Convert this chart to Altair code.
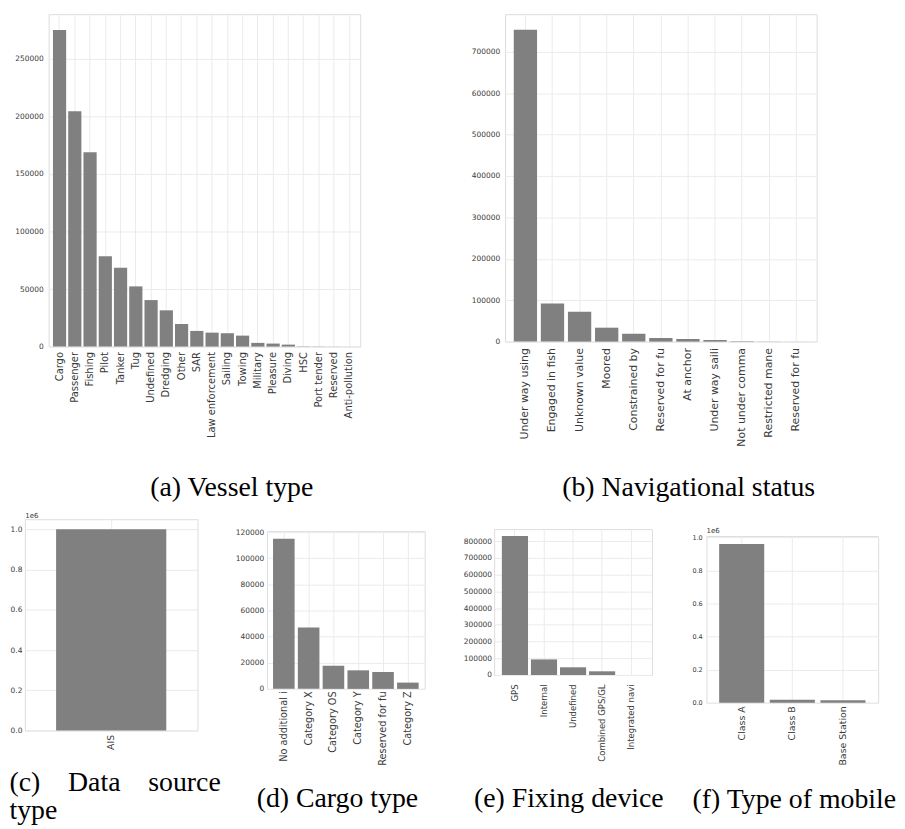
import altair as alt
import pandas as pd

# ---------------- data ----------------
vessel_types = ["Cargo", "Passenger", "Fishing", "Pilot", "Tanker", "Tug", "Undefined",
                "Dredging", "Other", "SAR", "Law enforcement", "Sailing", "Towing",
                "Military", "Pleasure", "Diving", "HSC", "Port tender", "Reserved",
                "Anti-pollution"]
vessel_counts = [275100, 204400, 168900, 78500, 68400, 52300, 40400, 31500, 19600,
                 13600, 12100, 11600, 9500, 3200, 2600, 1700, 300, 150, 80, 30]

nav_status = ["Under way using", "Engaged in fish", "Unknown value", "Moored",
              "Constrained by", "Reserved for fu", "At anchor", "Under way saili",
              "Not under comma", "Restricted mane", "Reserved for fu#2"]
nav_counts = [753000, 92000, 72100, 33600, 19200, 8700, 6300, 3900, 1000, 300, 100]

source_types = ["AIS"]
source_counts = [1000000]

cargo_types = ["No additional i", "Category X", "Category OS", "Category Y",
               "Reserved for fu", "Category Z"]
cargo_counts = [115000, 47000, 17700, 14200, 12900, 4800]

fixing_devices = ["GPS", "Internal", "Undefined", "Combined GPS/GL", "Integrated navi"]
fixing_counts = [831000, 93000, 46000, 22000, 500]

mobile_types = ["Class A", "Class B", "Base Station"]
mobile_counts = [960000, 18000, 15000]

# ---------------- style ----------------
BAR = "#808080"
GRID = "#ebebeb"
FRAME = "#e0e0e0"
LABEL = "#3a3a3a"
SERIF = "Liberation Serif"
SANS = "DejaVu Sans"
CAP_SIZE = 28


def panel(cats, vals, *, width, height, pi, po, yticks, xsize, xpad, ysize, ypad,
          caption, capx, capy, capalign="center", ylabelexpr=None, xlabelexpr=None,
          ytitle=None, title=None):
    df = pd.DataFrame({"cat": cats, "n": vals})
    xaxis = dict(labelAngle=270, labelAlign="right", labelBaseline="middle",
                 labelFont=SANS, labelFontSize=xsize, labelColor=LABEL,
                 labelPadding=xpad, labelOverlap=False, ticks=False, domain=False,
                 grid=True, gridColor=GRID, gridWidth=1, bandPosition=0.5,
                 title=caption, titleFont=SERIF, titleFontSize=CAP_SIZE,
                 titleFontWeight="normal", titleColor="black", titleX=capx,
                 titleY=capy, titleAlign=capalign, titleBaseline="alphabetic",
                 titleLineHeight=29)
    if xlabelexpr:
        xaxis["labelExpr"] = xlabelexpr
    yaxis = dict(values=yticks, labelFont=SANS, labelFontSize=ysize, labelColor=LABEL,
                 labelPadding=ypad, ticks=False, domain=False, grid=True,
                 gridColor=GRID, gridWidth=1, format="d")
    if ylabelexpr:
        yaxis["labelExpr"] = ylabelexpr
    if ytitle:
        yaxis.update(ytitle)
    else:
        yaxis["title"] = None
    ch = alt.Chart(df).mark_bar(color=BAR).encode(
        x=alt.X("cat:N", sort=cats,
                scale=alt.Scale(paddingInner=pi, paddingOuter=po),
                axis=alt.Axis(**xaxis)),
        y=alt.Y("n:Q", scale=alt.Scale(domain=[0, max(vals) * 1.05], nice=False),
                axis=alt.Axis(**yaxis)),
    ).properties(width=width, height=height)
    if title is not None:
        ch = ch.properties(title=title)
    return ch


def spacer_title(dx):
    # invisible marker that fixes how far the panel reaches to the left
    return dict(title=".", titleFontSize=10, titleColor="transparent", titleAngle=0,
                titleAlign="left", titleBaseline="top", titleX=dx, titleY=30)


def sci_ytitle():
    return dict(title="1e6", titleFont=SANS, titleFontSize=7, titleFontWeight="normal",
                titleColor=LABEL, titleAngle=0, titleAlign="left",
                titleBaseline="bottom", titleX=0, titleY=-1)


def blank(w, h):
    return alt.Chart(pd.DataFrame({"v": [0]})).mark_point(opacity=0, size=1).properties(
        width=w, height=h, view=alt.ViewBackground(strokeOpacity=0))


a = panel(vessel_types, vessel_counts, width=314, height=335, pi=0.135, po=0.28,
          yticks=[0, 50000, 100000, 150000, 200000, 250000],
          xsize=10, xpad=5, ysize=7.5, ypad=5.5,
          caption="(a) Vessel type", capx=184, capy=150)

b = panel(nav_status, nav_counts, width=314, height=330, pi=0.14, po=0.32,
          yticks=[0, 100000, 200000, 300000, 400000, 500000, 600000, 700000],
          xsize=11, xpad=6, ysize=7.5, ypad=5.5,
          caption="(b) Navigational status", capx=184.5, capy=155,
          xlabelexpr="replace(datum.label, '#2', '')")

c = panel(source_types, source_counts, width=174, height=213, pi=0.1, po=0.255,
          yticks=[0, 200000, 400000, 600000, 800000, 1000000],
          xsize=9.3, xpad=4, ysize=7.5, ypad=3,
          caption=["(c)\u00a0\u00a0\u00a0\u00a0Data\u00a0\u00a0\u00a0\u00a0source", "type"],
          capx=-16, capy=60, capalign="left",
          ylabelexpr="format(datum.value / 1000000, '.1f')",
          ytitle=sci_ytitle())

d = panel(cargo_types, cargo_counts, width=159, height=159, pi=0.13, po=0.245,
          yticks=[0, 20000, 40000, 60000, 80000, 100000, 120000],
          xsize=9.8, xpad=2, ysize=7.5, ypad=3.3,
          caption="(d) Cargo type", capx=70.5, capy=118.7,
          ytitle=spacer_title(-45))

e = panel(fixing_devices, fixing_counts, width=159, height=147, pi=0.1, po=0.265,
          yticks=[0, 100000, 200000, 300000, 400000, 500000, 600000, 700000, 800000],
          xsize=8.6, xpad=9, ysize=7.5, ypad=2.6,
          caption="(e) Fixing device", capx=74.7, capy=132.3,
          ytitle=spacer_title(-68.3))

f = panel(mobile_types, mobile_counts, width=173, height=168, pi=0.11, po=0.25,
          yticks=[0, 200000, 400000, 600000, 800000, 1000000],
          xsize=9.5, xpad=3, ysize=6.5, ypad=4.3,
          caption="(f) Type of mobile", capx=88, capy=105.7,
          ylabelexpr="format(datum.value / 1000000, '.1f')",
          ytitle=spacer_title(-42.5),
          title=alt.TitleParams(text="1e6", font=SANS, fontSize=7, fontWeight="normal",
                                color=LABEL, anchor="start", frame="group", offset=0))

top = alt.hconcat(
    blank(24, 1),
    alt.hconcat(a, b, spacing=146, bounds="flush"),
    spacing=0, bounds="flush",
)

bottom = alt.hconcat(
    c,
    alt.vconcat(blank(1, 11.7), d, spacing=0, bounds="flush"),
    alt.vconcat(blank(1, 10), e, spacing=0, bounds="flush"),
    alt.vconcat(blank(1, 16.4), f, spacing=0, bounds="flush"),
    spacing=0,
)

chart = alt.vconcat(top, bottom, spacing=8).properties(
    padding={"left": 0, "top": 2, "right": 0, "bottom": 0}
).configure_view(stroke=FRAME, strokeWidth=1).configure(background="white")

chart.save("out.html", embed_options={"renderer": "svg", "actions": False})
